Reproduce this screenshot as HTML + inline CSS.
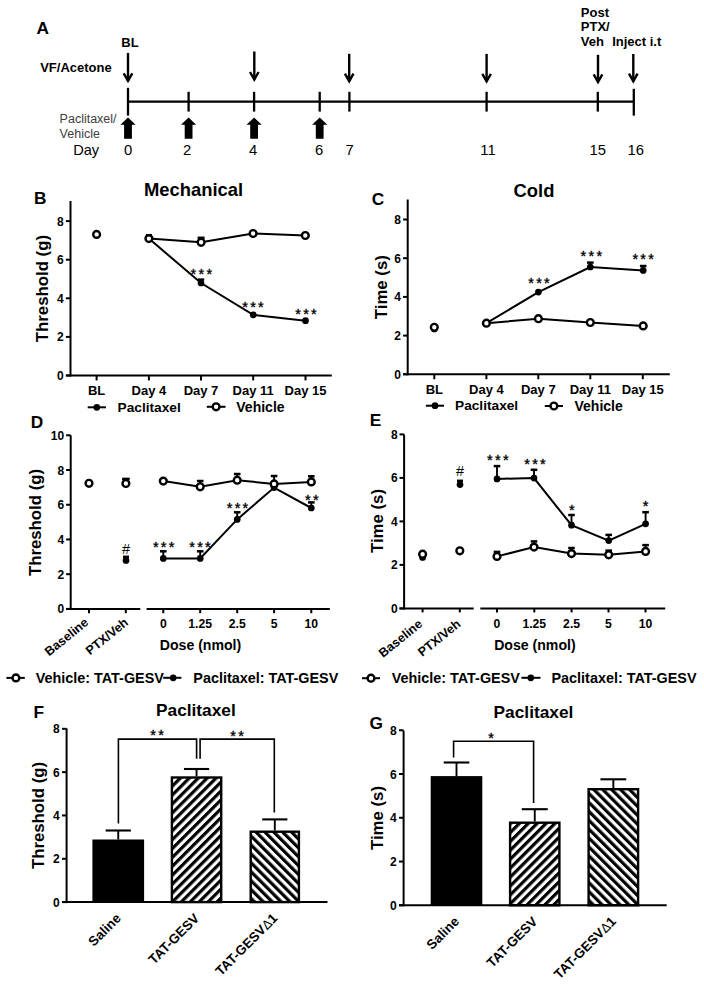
<!DOCTYPE html><html><head><meta charset="utf-8"><style>html,body{margin:0;padding:0;background:#fff;}svg{display:block;font-family:"Liberation Sans",sans-serif;}</style></head><body>
<svg width="704" height="984" viewBox="0 0 704 984">
<rect x="0" y="0" width="704" height="984" fill="#fff"/>
<g stroke="#000" stroke-linecap="butt">
<text x="36.6" y="34.3" font-size="17.3" font-weight="bold" text-anchor="start" fill="#000" stroke="none" >A</text>
<text x="121.3" y="46.8" font-size="13" font-weight="bold" text-anchor="start" fill="#000" stroke="none" >BL</text>
<text x="40.2" y="72" font-size="13" font-weight="bold" text-anchor="start" fill="#000" stroke="none" >VF/Acetone</text>
<text x="580.8" y="17" font-size="13" font-weight="bold" text-anchor="start" fill="#000" stroke="none" >Post</text>
<text x="580.8" y="31.4" font-size="13" font-weight="bold" text-anchor="start" fill="#000" stroke="none" >PTX/</text>
<text x="580.8" y="45.7" font-size="13" font-weight="bold" text-anchor="start" fill="#000" stroke="none" >Veh</text>
<text x="612.2" y="45.8" font-size="13" font-weight="bold" text-anchor="start" fill="#000" stroke="none" >Inject i.t</text>
<line x1="128" y1="52.9" x2="128" y2="80.9" stroke-width="2.4"/>
<polyline points="123.7,73.3 128,80.9 132.3,73.3" fill="none" stroke-width="2.4" stroke-linejoin="miter" stroke-miterlimit="10"/>
<line x1="254.3" y1="51.5" x2="254.3" y2="79.6" stroke-width="2.4"/>
<polyline points="250,72 254.3,79.6 258.6,72" fill="none" stroke-width="2.4" stroke-linejoin="miter" stroke-miterlimit="10"/>
<line x1="349.2" y1="53.8" x2="349.2" y2="81.2" stroke-width="2.4"/>
<polyline points="344.9,73.6 349.2,81.2 353.5,73.6" fill="none" stroke-width="2.4" stroke-linejoin="miter" stroke-miterlimit="10"/>
<line x1="486.6" y1="53.9" x2="486.6" y2="81.4" stroke-width="2.4"/>
<polyline points="482.3,73.8 486.6,81.4 490.9,73.8" fill="none" stroke-width="2.4" stroke-linejoin="miter" stroke-miterlimit="10"/>
<line x1="598" y1="54.8" x2="598" y2="82" stroke-width="2.4"/>
<polyline points="593.7,74.4 598,82 602.3,74.4" fill="none" stroke-width="2.4" stroke-linejoin="miter" stroke-miterlimit="10"/>
<line x1="633.3" y1="54" x2="633.3" y2="81.2" stroke-width="2.4"/>
<polyline points="629,73.6 633.3,81.2 637.6,73.6" fill="none" stroke-width="2.4" stroke-linejoin="miter" stroke-miterlimit="10"/>
<line x1="128" y1="101.6" x2="634" y2="101.6" stroke-width="2.2"/>
<line x1="188.6" y1="91.8" x2="188.6" y2="111.6" stroke-width="2.3"/>
<line x1="254.1" y1="91.8" x2="254.1" y2="111.6" stroke-width="2.3"/>
<line x1="319.7" y1="91.8" x2="319.7" y2="111.6" stroke-width="2.3"/>
<line x1="349.4" y1="91.8" x2="349.4" y2="111.6" stroke-width="2.3"/>
<line x1="486.6" y1="91.8" x2="486.6" y2="111.6" stroke-width="2.3"/>
<line x1="597.8" y1="91.8" x2="597.8" y2="111.6" stroke-width="2.3"/>
<line x1="128" y1="87.8" x2="128" y2="115.6" stroke-width="2.3"/>
<line x1="633.8" y1="88.8" x2="633.8" y2="115.6" stroke-width="2.3"/>
<polygon points="128,117.4 135.6,124.8 131.9,124.8 131.9,138.8 124.1,138.8 124.1,124.8 120.4,124.8" fill="#000" stroke="none"/>
<polygon points="188.6,117.4 196.2,124.8 192.5,124.8 192.5,138.8 184.7,138.8 184.7,124.8 181,124.8" fill="#000" stroke="none"/>
<polygon points="254.1,117.4 261.7,124.8 258,124.8 258,138.8 250.2,138.8 250.2,124.8 246.5,124.8" fill="#000" stroke="none"/>
<polygon points="319.7,117.4 327.3,124.8 323.6,124.8 323.6,138.8 315.8,138.8 315.8,124.8 312.1,124.8" fill="#000" stroke="none"/>
<text x="59.6" y="123.3" font-size="12.5" font-weight="normal" text-anchor="start" fill="#404040" stroke="none" >Paclitaxel/</text>
<text x="59.6" y="137.5" font-size="12.5" font-weight="normal" text-anchor="start" fill="#404040" stroke="none" >Vehicle</text>
<text x="73.2" y="155.2" font-size="14.6" font-weight="normal" text-anchor="start" fill="#000" stroke="none" >Day</text>
<text x="128.2" y="155.2" font-size="14.8" font-weight="normal" text-anchor="middle" fill="#000" stroke="none" >0</text>
<text x="187" y="155.2" font-size="14.8" font-weight="normal" text-anchor="middle" fill="#000" stroke="none" >2</text>
<text x="253" y="155.2" font-size="14.8" font-weight="normal" text-anchor="middle" fill="#000" stroke="none" >4</text>
<text x="319" y="155.2" font-size="14.8" font-weight="normal" text-anchor="middle" fill="#000" stroke="none" >6</text>
<text x="349.6" y="155.2" font-size="14.8" font-weight="normal" text-anchor="middle" fill="#000" stroke="none" >7</text>
<text x="488" y="155.2" font-size="14.8" font-weight="normal" text-anchor="middle" fill="#000" stroke="none" >11</text>
<text x="597.8" y="155.2" font-size="14.8" font-weight="normal" text-anchor="middle" fill="#000" stroke="none" >15</text>
<text x="635.8" y="155.2" font-size="14.8" font-weight="normal" text-anchor="middle" fill="#000" stroke="none" >16</text>
<text x="34" y="203.5" font-size="17.3" font-weight="bold" text-anchor="start" fill="#000" stroke="none" >B</text>
<text x="144" y="196.4" font-size="18.4" font-weight="bold" text-anchor="start" fill="#000" stroke="none" >Mechanical</text>
<line x1="70.5" y1="201" x2="70.5" y2="376.5" stroke-width="2"/>
<line x1="65.9" y1="375.5" x2="70.5" y2="375.5" stroke-width="2"/>
<text x="63.6" y="380" font-size="12" font-weight="bold" text-anchor="end" fill="#000" stroke="none" >0</text>
<line x1="65.9" y1="336.9" x2="70.5" y2="336.9" stroke-width="2"/>
<text x="63.6" y="341.4" font-size="12" font-weight="bold" text-anchor="end" fill="#000" stroke="none" >2</text>
<line x1="65.9" y1="298.3" x2="70.5" y2="298.3" stroke-width="2"/>
<text x="63.6" y="302.8" font-size="12" font-weight="bold" text-anchor="end" fill="#000" stroke="none" >4</text>
<line x1="65.9" y1="259.7" x2="70.5" y2="259.7" stroke-width="2"/>
<text x="63.6" y="264.2" font-size="12" font-weight="bold" text-anchor="end" fill="#000" stroke="none" >6</text>
<line x1="65.9" y1="221.1" x2="70.5" y2="221.1" stroke-width="2"/>
<text x="63.6" y="225.6" font-size="12" font-weight="bold" text-anchor="end" fill="#000" stroke="none" >8</text>
<line x1="65.9" y1="375.5" x2="331.8" y2="375.5" stroke-width="2"/>
<line x1="96.6" y1="375.5" x2="96.6" y2="380.4" stroke-width="2"/>
<text x="96.6" y="395" font-size="13" font-weight="bold" text-anchor="middle" fill="#000" stroke="none" >BL</text>
<line x1="148.9" y1="375.5" x2="148.9" y2="380.4" stroke-width="2"/>
<text x="148.9" y="395" font-size="13" font-weight="bold" text-anchor="middle" fill="#000" stroke="none" >Day 4</text>
<line x1="201" y1="375.5" x2="201" y2="380.4" stroke-width="2"/>
<text x="201" y="395" font-size="13" font-weight="bold" text-anchor="middle" fill="#000" stroke="none" >Day 7</text>
<line x1="253.2" y1="375.5" x2="253.2" y2="380.4" stroke-width="2"/>
<text x="253.2" y="395" font-size="13" font-weight="bold" text-anchor="middle" fill="#000" stroke="none" >Day 11</text>
<line x1="305.5" y1="375.5" x2="305.5" y2="380.4" stroke-width="2"/>
<text x="305.5" y="395" font-size="13" font-weight="bold" text-anchor="middle" fill="#000" stroke="none" >Day 15</text>
<text transform="translate(48.4,288.6) rotate(-90)" font-size="16.8" font-weight="bold" text-anchor="middle" stroke="none" fill="#000">Threshold (g)</text>
<polyline points="148.9,238.6 201.1,242.3 253.1,233.5 305.3,235.5" fill="none" stroke-width="2"/>
<polyline points="148.9,238.6 201,283 253.2,314.8 305.5,320.7" fill="none" stroke-width="2"/>
<line x1="201" y1="283" x2="201" y2="279.6" stroke-width="1.9"/>
<line x1="197.8" y1="279.6" x2="204.2" y2="279.6" stroke-width="2.5"/>
<line x1="148.9" y1="238.6" x2="148.9" y2="235.2" stroke-width="1.9"/>
<line x1="145.9" y1="235.2" x2="151.9" y2="235.2" stroke-width="2.5"/>
<line x1="201.1" y1="242.3" x2="201.1" y2="237.8" stroke-width="1.9"/>
<line x1="197.6" y1="237.8" x2="204.6" y2="237.8" stroke-width="2.5"/>
<circle cx="201" cy="283" r="3.35" fill="#000" stroke="none"/>
<circle cx="253.2" cy="314.8" r="3.35" fill="#000" stroke="none"/>
<circle cx="305.5" cy="320.7" r="3.35" fill="#000" stroke="none"/>
<circle cx="96.6" cy="234.4" r="3.4" fill="#fff" stroke-width="2.4"/>
<circle cx="148.9" cy="238.6" r="3.4" fill="#fff" stroke-width="2.4"/>
<circle cx="201.1" cy="242.3" r="3.4" fill="#fff" stroke-width="2.4"/>
<circle cx="253.1" cy="233.5" r="3.4" fill="#fff" stroke-width="2.4"/>
<circle cx="305.3" cy="235.5" r="3.4" fill="#fff" stroke-width="2.4"/>
<text x="193.45" y="279.07" font-size="14.5" font-weight="normal" text-anchor="middle" stroke="#000" stroke-width="0.35" fill="#000">*</text>
<text x="201.4" y="279.07" font-size="14.5" font-weight="normal" text-anchor="middle" stroke="#000" stroke-width="0.35" fill="#000">*</text>
<text x="209.35" y="279.07" font-size="14.5" font-weight="normal" text-anchor="middle" stroke="#000" stroke-width="0.35" fill="#000">*</text>
<text x="245.05" y="311.67" font-size="14.5" font-weight="normal" text-anchor="middle" stroke="#000" stroke-width="0.35" fill="#000">*</text>
<text x="253" y="311.67" font-size="14.5" font-weight="normal" text-anchor="middle" stroke="#000" stroke-width="0.35" fill="#000">*</text>
<text x="260.95" y="311.67" font-size="14.5" font-weight="normal" text-anchor="middle" stroke="#000" stroke-width="0.35" fill="#000">*</text>
<text x="298.05" y="318.67" font-size="14.5" font-weight="normal" text-anchor="middle" stroke="#000" stroke-width="0.35" fill="#000">*</text>
<text x="306" y="318.67" font-size="14.5" font-weight="normal" text-anchor="middle" stroke="#000" stroke-width="0.35" fill="#000">*</text>
<text x="313.95" y="318.67" font-size="14.5" font-weight="normal" text-anchor="middle" stroke="#000" stroke-width="0.35" fill="#000">*</text>
<line x1="87.7" y1="407.3" x2="105.9" y2="407.3" stroke-width="2"/>
<circle cx="96.8" cy="407.3" r="3.35" fill="#000" stroke="none"/>
<text x="117.6" y="412" font-size="13.7" font-weight="bold" text-anchor="start" fill="#000" stroke="none" >Paclitaxel</text>
<line x1="206.8" y1="406.8" x2="225.5" y2="406.8" stroke-width="2"/>
<circle cx="216.1" cy="406.8" r="3.4" fill="#fff" stroke-width="2.4"/>
<text x="236.3" y="412" font-size="14" font-weight="bold" text-anchor="start" fill="#000" stroke="none" >Vehicle</text>
<text x="371.8" y="205.2" font-size="17.3" font-weight="bold" text-anchor="start" fill="#000" stroke="none" >C</text>
<text x="513.6" y="197.2" font-size="18.4" font-weight="bold" text-anchor="start" fill="#000" stroke="none" >Cold</text>
<line x1="407.7" y1="199.5" x2="407.7" y2="375.3" stroke-width="2"/>
<line x1="403.1" y1="374.3" x2="407.7" y2="374.3" stroke-width="2"/>
<text x="401" y="378.8" font-size="12" font-weight="bold" text-anchor="end" fill="#000" stroke="none" >0</text>
<line x1="403.1" y1="335.6" x2="407.7" y2="335.6" stroke-width="2"/>
<text x="401" y="340.1" font-size="12" font-weight="bold" text-anchor="end" fill="#000" stroke="none" >2</text>
<line x1="403.1" y1="296.9" x2="407.7" y2="296.9" stroke-width="2"/>
<text x="401" y="301.4" font-size="12" font-weight="bold" text-anchor="end" fill="#000" stroke="none" >4</text>
<line x1="403.1" y1="258.2" x2="407.7" y2="258.2" stroke-width="2"/>
<text x="401" y="262.7" font-size="12" font-weight="bold" text-anchor="end" fill="#000" stroke="none" >6</text>
<line x1="403.1" y1="219.5" x2="407.7" y2="219.5" stroke-width="2"/>
<text x="401" y="224" font-size="12" font-weight="bold" text-anchor="end" fill="#000" stroke="none" >8</text>
<line x1="403.1" y1="374.3" x2="669.8" y2="374.3" stroke-width="2"/>
<line x1="434.3" y1="374.3" x2="434.3" y2="379.2" stroke-width="2"/>
<text x="434.3" y="394" font-size="13" font-weight="bold" text-anchor="middle" fill="#000" stroke="none" >BL</text>
<line x1="486.4" y1="374.3" x2="486.4" y2="379.2" stroke-width="2"/>
<text x="486.4" y="394" font-size="13" font-weight="bold" text-anchor="middle" fill="#000" stroke="none" >Day 4</text>
<line x1="538.3" y1="374.3" x2="538.3" y2="379.2" stroke-width="2"/>
<text x="538.3" y="394" font-size="13" font-weight="bold" text-anchor="middle" fill="#000" stroke="none" >Day 7</text>
<line x1="590.3" y1="374.3" x2="590.3" y2="379.2" stroke-width="2"/>
<text x="590.3" y="394" font-size="13" font-weight="bold" text-anchor="middle" fill="#000" stroke="none" >Day 11</text>
<line x1="642.8" y1="374.3" x2="642.8" y2="379.2" stroke-width="2"/>
<text x="642.8" y="394" font-size="13" font-weight="bold" text-anchor="middle" fill="#000" stroke="none" >Day 15</text>
<text transform="translate(386.6,287.2) rotate(-90)" font-size="16.8" font-weight="bold" text-anchor="middle" stroke="none" fill="#000">Time (s)</text>
<polyline points="486.4,323.2 538.4,318.7 590.3,322.5 643.2,325.9" fill="none" stroke-width="2"/>
<polyline points="486.4,323.2 538.4,292.1 590.3,267 643.2,270.4" fill="none" stroke-width="2"/>
<line x1="590.3" y1="267" x2="590.3" y2="262.6" stroke-width="1.9"/>
<line x1="587" y1="262.6" x2="593.6" y2="262.6" stroke-width="2.5"/>
<line x1="643.2" y1="270.4" x2="643.2" y2="266" stroke-width="1.9"/>
<line x1="639.9" y1="266" x2="646.5" y2="266" stroke-width="2.5"/>
<circle cx="538.4" cy="292.1" r="3.35" fill="#000" stroke="none"/>
<circle cx="590.3" cy="267" r="3.35" fill="#000" stroke="none"/>
<circle cx="643.2" cy="270.4" r="3.35" fill="#000" stroke="none"/>
<circle cx="434.3" cy="328.9" r="3.35" fill="#000" stroke="none"/>
<circle cx="434.3" cy="327.3" r="3.4" fill="#fff" stroke-width="2.4"/>
<circle cx="486.4" cy="323.2" r="3.4" fill="#fff" stroke-width="2.4"/>
<circle cx="538.4" cy="318.7" r="3.4" fill="#fff" stroke-width="2.4"/>
<circle cx="590.3" cy="322.5" r="3.4" fill="#fff" stroke-width="2.4"/>
<circle cx="643.2" cy="325.9" r="3.4" fill="#fff" stroke-width="2.4"/>
<text x="531.05" y="288.47" font-size="14.5" font-weight="normal" text-anchor="middle" stroke="#000" stroke-width="0.35" fill="#000">*</text>
<text x="539" y="288.47" font-size="14.5" font-weight="normal" text-anchor="middle" stroke="#000" stroke-width="0.35" fill="#000">*</text>
<text x="546.95" y="288.47" font-size="14.5" font-weight="normal" text-anchor="middle" stroke="#000" stroke-width="0.35" fill="#000">*</text>
<text x="583.45" y="261.47" font-size="14.5" font-weight="normal" text-anchor="middle" stroke="#000" stroke-width="0.35" fill="#000">*</text>
<text x="591.4" y="261.47" font-size="14.5" font-weight="normal" text-anchor="middle" stroke="#000" stroke-width="0.35" fill="#000">*</text>
<text x="599.35" y="261.47" font-size="14.5" font-weight="normal" text-anchor="middle" stroke="#000" stroke-width="0.35" fill="#000">*</text>
<text x="635.25" y="264.17" font-size="14.5" font-weight="normal" text-anchor="middle" stroke="#000" stroke-width="0.35" fill="#000">*</text>
<text x="643.2" y="264.17" font-size="14.5" font-weight="normal" text-anchor="middle" stroke="#000" stroke-width="0.35" fill="#000">*</text>
<text x="651.15" y="264.17" font-size="14.5" font-weight="normal" text-anchor="middle" stroke="#000" stroke-width="0.35" fill="#000">*</text>
<line x1="425.9" y1="405.7" x2="444" y2="405.7" stroke-width="2"/>
<circle cx="435" cy="405.7" r="3.35" fill="#000" stroke="none"/>
<text x="455" y="410.4" font-size="13.7" font-weight="bold" text-anchor="start" fill="#000" stroke="none" >Paclitaxel</text>
<line x1="544.8" y1="406" x2="563" y2="406" stroke-width="2"/>
<circle cx="553.9" cy="406" r="3.4" fill="#fff" stroke-width="2.4"/>
<text x="574.5" y="411.3" font-size="14" font-weight="bold" text-anchor="start" fill="#000" stroke="none" >Vehicle</text>
<text x="30.8" y="427.9" font-size="17.3" font-weight="bold" text-anchor="start" fill="#000" stroke="none" >D</text>
<line x1="70.7" y1="435.3" x2="70.7" y2="609.9" stroke-width="2"/>
<line x1="66.1" y1="608.9" x2="70.7" y2="608.9" stroke-width="2"/>
<text x="64.2" y="613.4" font-size="12" font-weight="bold" text-anchor="end" fill="#000" stroke="none" >0</text>
<line x1="66.1" y1="574.18" x2="70.7" y2="574.18" stroke-width="2"/>
<text x="64.2" y="578.68" font-size="12" font-weight="bold" text-anchor="end" fill="#000" stroke="none" >2</text>
<line x1="66.1" y1="539.46" x2="70.7" y2="539.46" stroke-width="2"/>
<text x="64.2" y="543.96" font-size="12" font-weight="bold" text-anchor="end" fill="#000" stroke="none" >4</text>
<line x1="66.1" y1="504.74" x2="70.7" y2="504.74" stroke-width="2"/>
<text x="64.2" y="509.24" font-size="12" font-weight="bold" text-anchor="end" fill="#000" stroke="none" >6</text>
<line x1="66.1" y1="470.02" x2="70.7" y2="470.02" stroke-width="2"/>
<text x="64.2" y="474.52" font-size="12" font-weight="bold" text-anchor="end" fill="#000" stroke="none" >8</text>
<line x1="66.1" y1="435.3" x2="70.7" y2="435.3" stroke-width="2"/>
<text x="64.2" y="439.8" font-size="12" font-weight="bold" text-anchor="end" fill="#000" stroke="none" >10</text>
<line x1="66.1" y1="608.9" x2="140.3" y2="608.9" stroke-width="2"/>
<line x1="146.6" y1="608.9" x2="329.8" y2="608.9" stroke-width="2"/>
<line x1="89" y1="608.9" x2="89" y2="613.2" stroke-width="2"/>
<line x1="125.8" y1="608.9" x2="125.8" y2="613.2" stroke-width="2"/>
<line x1="163.3" y1="608.9" x2="163.3" y2="613.2" stroke-width="2"/>
<line x1="200.2" y1="608.9" x2="200.2" y2="613.2" stroke-width="2"/>
<line x1="237.2" y1="608.9" x2="237.2" y2="613.2" stroke-width="2"/>
<line x1="274.1" y1="608.9" x2="274.1" y2="613.2" stroke-width="2"/>
<line x1="311.3" y1="608.9" x2="311.3" y2="613.2" stroke-width="2"/>
<text x="163.3" y="628" font-size="12.2" font-weight="bold" text-anchor="middle" fill="#000" stroke="none" >0</text>
<text x="200.2" y="628" font-size="12.2" font-weight="bold" text-anchor="middle" fill="#000" stroke="none" >1.25</text>
<text x="237.2" y="628" font-size="12.2" font-weight="bold" text-anchor="middle" fill="#000" stroke="none" >2.5</text>
<text x="274.1" y="628" font-size="12.2" font-weight="bold" text-anchor="middle" fill="#000" stroke="none" >5</text>
<text x="311.3" y="628" font-size="12.2" font-weight="bold" text-anchor="middle" fill="#000" stroke="none" >10</text>
<text x="159.8" y="650.4" font-size="14.1" font-weight="bold" text-anchor="start" fill="#000" stroke="none" >Dose (nmol)</text>
<text transform="translate(89.3,623.9) rotate(-39)" font-size="12.6" font-weight="bold" text-anchor="end" stroke="none" fill="#000">Baseline</text>
<text transform="translate(129.1,623.9) rotate(-39)" font-size="12.6" font-weight="bold" text-anchor="end" stroke="none" fill="#000">PTX/Veh</text>
<text transform="translate(41.2,522.5) rotate(-90)" font-size="16.8" font-weight="bold" text-anchor="middle" stroke="none" fill="#000">Threshold (g)</text>
<polyline points="163.3,481.1 200.2,486.8 237.2,480.2 274.1,483.9 311.3,481.9" fill="none" stroke-width="2"/>
<polyline points="163.3,558.4 200.2,558.4 237.2,519.4 274.1,487.6 311.3,508" fill="none" stroke-width="2"/>
<line x1="163.3" y1="558.4" x2="163.3" y2="551.3" stroke-width="1.9"/>
<line x1="160" y1="551.3" x2="166.6" y2="551.3" stroke-width="2.5"/>
<line x1="200.2" y1="558.4" x2="200.2" y2="551.3" stroke-width="1.9"/>
<line x1="196.9" y1="551.3" x2="203.5" y2="551.3" stroke-width="2.5"/>
<line x1="237.2" y1="519.4" x2="237.2" y2="512.3" stroke-width="1.9"/>
<line x1="233.9" y1="512.3" x2="240.5" y2="512.3" stroke-width="2.5"/>
<line x1="311.3" y1="508" x2="311.3" y2="502.4" stroke-width="1.9"/>
<line x1="308" y1="502.4" x2="314.6" y2="502.4" stroke-width="2.5"/>
<line x1="200.2" y1="486.8" x2="200.2" y2="481" stroke-width="1.9"/>
<line x1="196.9" y1="481" x2="203.5" y2="481" stroke-width="2.5"/>
<line x1="237.2" y1="480.2" x2="237.2" y2="474" stroke-width="1.9"/>
<line x1="233.9" y1="474" x2="240.5" y2="474" stroke-width="2.5"/>
<line x1="274.1" y1="483.9" x2="274.1" y2="476" stroke-width="1.9"/>
<line x1="270.8" y1="476" x2="277.4" y2="476" stroke-width="2.5"/>
<line x1="311.3" y1="481.9" x2="311.3" y2="476.3" stroke-width="1.9"/>
<line x1="308" y1="476.3" x2="314.6" y2="476.3" stroke-width="2.5"/>
<line x1="125.9" y1="483.5" x2="125.9" y2="478.9" stroke-width="1.9"/>
<line x1="122.1" y1="478.9" x2="129.7" y2="478.9" stroke-width="2.5"/>
<line x1="126" y1="560.4" x2="126" y2="556.8" stroke-width="1.9"/>
<line x1="123" y1="556.8" x2="129" y2="556.8" stroke-width="2.5"/>
<circle cx="89" cy="483.4" r="3.35" fill="#000" stroke="none"/>
<circle cx="126" cy="560.4" r="3.35" fill="#000" stroke="none"/>
<circle cx="163.3" cy="558.4" r="3.35" fill="#000" stroke="none"/>
<circle cx="200.2" cy="558.4" r="3.35" fill="#000" stroke="none"/>
<circle cx="237.2" cy="519.4" r="3.35" fill="#000" stroke="none"/>
<circle cx="274.1" cy="487.6" r="3.35" fill="#000" stroke="none"/>
<circle cx="311.3" cy="508" r="3.35" fill="#000" stroke="none"/>
<circle cx="89" cy="483.3" r="3.4" fill="#fff" stroke-width="2.4"/>
<circle cx="125.9" cy="483.5" r="3.4" fill="#fff" stroke-width="2.4"/>
<circle cx="163.3" cy="481.1" r="3.4" fill="#fff" stroke-width="2.4"/>
<circle cx="200.2" cy="486.8" r="3.4" fill="#fff" stroke-width="2.4"/>
<circle cx="237.2" cy="480.2" r="3.4" fill="#fff" stroke-width="2.4"/>
<circle cx="274.1" cy="483.9" r="3.4" fill="#fff" stroke-width="2.4"/>
<circle cx="311.3" cy="481.9" r="3.4" fill="#fff" stroke-width="2.4"/>
<text x="155.75" y="552.07" font-size="14.5" font-weight="normal" text-anchor="middle" stroke="#000" stroke-width="0.35" fill="#000">*</text>
<text x="163.7" y="552.07" font-size="14.5" font-weight="normal" text-anchor="middle" stroke="#000" stroke-width="0.35" fill="#000">*</text>
<text x="171.65" y="552.07" font-size="14.5" font-weight="normal" text-anchor="middle" stroke="#000" stroke-width="0.35" fill="#000">*</text>
<text x="192.05" y="552.07" font-size="14.5" font-weight="normal" text-anchor="middle" stroke="#000" stroke-width="0.35" fill="#000">*</text>
<text x="200" y="552.07" font-size="14.5" font-weight="normal" text-anchor="middle" stroke="#000" stroke-width="0.35" fill="#000">*</text>
<text x="207.95" y="552.07" font-size="14.5" font-weight="normal" text-anchor="middle" stroke="#000" stroke-width="0.35" fill="#000">*</text>
<text x="229.55" y="512.87" font-size="14.5" font-weight="normal" text-anchor="middle" stroke="#000" stroke-width="0.35" fill="#000">*</text>
<text x="237.5" y="512.87" font-size="14.5" font-weight="normal" text-anchor="middle" stroke="#000" stroke-width="0.35" fill="#000">*</text>
<text x="245.45" y="512.87" font-size="14.5" font-weight="normal" text-anchor="middle" stroke="#000" stroke-width="0.35" fill="#000">*</text>
<text x="307.92" y="504.87" font-size="14.5" font-weight="normal" text-anchor="middle" stroke="#000" stroke-width="0.35" fill="#000">*</text>
<text x="315.88" y="504.87" font-size="14.5" font-weight="normal" text-anchor="middle" stroke="#000" stroke-width="0.35" fill="#000">*</text>
<text x="126.1" y="553.9" font-size="14.5" font-weight="normal" text-anchor="middle" fill="#000" stroke="none" >#</text>
<text x="369.8" y="426.1" font-size="17.3" font-weight="bold" text-anchor="start" fill="#000" stroke="none" >E</text>
<line x1="404.1" y1="434.5" x2="404.1" y2="609.4" stroke-width="2"/>
<line x1="399.5" y1="608.4" x2="404.1" y2="608.4" stroke-width="2"/>
<text x="397.6" y="612.9" font-size="12" font-weight="bold" text-anchor="end" fill="#000" stroke="none" >0</text>
<line x1="399.5" y1="564.9" x2="404.1" y2="564.9" stroke-width="2"/>
<text x="397.6" y="569.4" font-size="12" font-weight="bold" text-anchor="end" fill="#000" stroke="none" >2</text>
<line x1="399.5" y1="521.4" x2="404.1" y2="521.4" stroke-width="2"/>
<text x="397.6" y="525.9" font-size="12" font-weight="bold" text-anchor="end" fill="#000" stroke="none" >4</text>
<line x1="399.5" y1="477.9" x2="404.1" y2="477.9" stroke-width="2"/>
<text x="397.6" y="482.4" font-size="12" font-weight="bold" text-anchor="end" fill="#000" stroke="none" >6</text>
<line x1="399.5" y1="434.4" x2="404.1" y2="434.4" stroke-width="2"/>
<text x="397.6" y="438.9" font-size="12" font-weight="bold" text-anchor="end" fill="#000" stroke="none" >8</text>
<line x1="399.5" y1="608.4" x2="473.7" y2="608.4" stroke-width="2"/>
<line x1="480.3" y1="608.4" x2="665.2" y2="608.4" stroke-width="2"/>
<line x1="422.6" y1="608.4" x2="422.6" y2="612.4" stroke-width="2"/>
<line x1="459.8" y1="608.4" x2="459.8" y2="612.4" stroke-width="2"/>
<line x1="497" y1="608.4" x2="497" y2="612.4" stroke-width="2"/>
<line x1="534.3" y1="608.4" x2="534.3" y2="612.4" stroke-width="2"/>
<line x1="571.6" y1="608.4" x2="571.6" y2="612.4" stroke-width="2"/>
<line x1="608.5" y1="608.4" x2="608.5" y2="612.4" stroke-width="2"/>
<line x1="645.5" y1="608.4" x2="645.5" y2="612.4" stroke-width="2"/>
<text x="497" y="628.3" font-size="12.2" font-weight="bold" text-anchor="middle" fill="#000" stroke="none" >0</text>
<text x="534.3" y="628.3" font-size="12.2" font-weight="bold" text-anchor="middle" fill="#000" stroke="none" >1.25</text>
<text x="571.6" y="628.3" font-size="12.2" font-weight="bold" text-anchor="middle" fill="#000" stroke="none" >2.5</text>
<text x="608.5" y="628.3" font-size="12.2" font-weight="bold" text-anchor="middle" fill="#000" stroke="none" >5</text>
<text x="645.5" y="628.3" font-size="12.2" font-weight="bold" text-anchor="middle" fill="#000" stroke="none" >10</text>
<text x="494.2" y="649.6" font-size="14.1" font-weight="bold" text-anchor="start" fill="#000" stroke="none" >Dose (nmol)</text>
<text transform="translate(423.3,625.4) rotate(-39)" font-size="12.6" font-weight="bold" text-anchor="end" stroke="none" fill="#000">Baseline</text>
<text transform="translate(461.5,625.4) rotate(-39)" font-size="12.6" font-weight="bold" text-anchor="end" stroke="none" fill="#000">PTX/Veh</text>
<text transform="translate(382.8,521.0) rotate(-90)" font-size="16.8" font-weight="bold" text-anchor="middle" stroke="none" fill="#000">Time (s)</text>
<polyline points="497,556.4 534,547.1 571.5,553.6 608.7,554.8 645.6,551.4" fill="none" stroke-width="2"/>
<polyline points="497,478.9 534,478.1 571.5,525.2 608.7,540.6 645.6,523.8" fill="none" stroke-width="2"/>
<line x1="497" y1="478.9" x2="497" y2="466.1" stroke-width="1.9"/>
<line x1="493.7" y1="466.1" x2="500.3" y2="466.1" stroke-width="2.5"/>
<line x1="534" y1="478.1" x2="534" y2="469.8" stroke-width="1.9"/>
<line x1="530.7" y1="469.8" x2="537.3" y2="469.8" stroke-width="2.5"/>
<line x1="571.5" y1="525.2" x2="571.5" y2="515" stroke-width="1.9"/>
<line x1="568.2" y1="515" x2="574.8" y2="515" stroke-width="2.5"/>
<line x1="608.7" y1="540.6" x2="608.7" y2="534.9" stroke-width="1.9"/>
<line x1="605.4" y1="534.9" x2="612" y2="534.9" stroke-width="2.5"/>
<line x1="645.6" y1="523.8" x2="645.6" y2="512.2" stroke-width="1.9"/>
<line x1="642.3" y1="512.2" x2="648.9" y2="512.2" stroke-width="2.5"/>
<line x1="497" y1="556.4" x2="497" y2="551.9" stroke-width="1.9"/>
<line x1="493.7" y1="551.9" x2="500.3" y2="551.9" stroke-width="2.5"/>
<line x1="534" y1="547.1" x2="534" y2="541.4" stroke-width="1.9"/>
<line x1="530.7" y1="541.4" x2="537.3" y2="541.4" stroke-width="2.5"/>
<line x1="571.5" y1="553.6" x2="571.5" y2="548" stroke-width="1.9"/>
<line x1="568.2" y1="548" x2="574.8" y2="548" stroke-width="2.5"/>
<line x1="608.7" y1="554.8" x2="608.7" y2="550.6" stroke-width="1.9"/>
<line x1="605.4" y1="550.6" x2="612" y2="550.6" stroke-width="2.5"/>
<line x1="645.6" y1="551.4" x2="645.6" y2="545.1" stroke-width="1.9"/>
<line x1="642.3" y1="545.1" x2="648.9" y2="545.1" stroke-width="2.5"/>
<line x1="460" y1="484.6" x2="460" y2="480.8" stroke-width="1.9"/>
<line x1="457" y1="480.8" x2="463" y2="480.8" stroke-width="2.5"/>
<circle cx="422.6" cy="557.4" r="3.35" fill="#000" stroke="none"/>
<circle cx="460" cy="484.6" r="3.35" fill="#000" stroke="none"/>
<circle cx="497" cy="478.9" r="3.35" fill="#000" stroke="none"/>
<circle cx="534" cy="478.1" r="3.35" fill="#000" stroke="none"/>
<circle cx="571.5" cy="525.2" r="3.35" fill="#000" stroke="none"/>
<circle cx="608.7" cy="540.6" r="3.35" fill="#000" stroke="none"/>
<circle cx="645.6" cy="523.8" r="3.35" fill="#000" stroke="none"/>
<circle cx="422.6" cy="554.2" r="3.4" fill="#fff" stroke-width="2.4"/>
<circle cx="459.8" cy="550.8" r="3.4" fill="#fff" stroke-width="2.4"/>
<circle cx="497" cy="556.4" r="3.4" fill="#fff" stroke-width="2.4"/>
<circle cx="534" cy="547.1" r="3.4" fill="#fff" stroke-width="2.4"/>
<circle cx="571.5" cy="553.6" r="3.4" fill="#fff" stroke-width="2.4"/>
<circle cx="608.7" cy="554.8" r="3.4" fill="#fff" stroke-width="2.4"/>
<circle cx="645.6" cy="551.4" r="3.4" fill="#fff" stroke-width="2.4"/>
<text x="489.85" y="465.27" font-size="14.5" font-weight="normal" text-anchor="middle" stroke="#000" stroke-width="0.35" fill="#000">*</text>
<text x="497.8" y="465.27" font-size="14.5" font-weight="normal" text-anchor="middle" stroke="#000" stroke-width="0.35" fill="#000">*</text>
<text x="505.75" y="465.27" font-size="14.5" font-weight="normal" text-anchor="middle" stroke="#000" stroke-width="0.35" fill="#000">*</text>
<text x="527.05" y="469.47" font-size="14.5" font-weight="normal" text-anchor="middle" stroke="#000" stroke-width="0.35" fill="#000">*</text>
<text x="535" y="469.47" font-size="14.5" font-weight="normal" text-anchor="middle" stroke="#000" stroke-width="0.35" fill="#000">*</text>
<text x="542.95" y="469.47" font-size="14.5" font-weight="normal" text-anchor="middle" stroke="#000" stroke-width="0.35" fill="#000">*</text>
<text x="571.8" y="514.97" font-size="14.5" font-weight="normal" text-anchor="middle" stroke="#000" stroke-width="0.35" fill="#000">*</text>
<text x="645.7" y="511.47" font-size="14.5" font-weight="normal" text-anchor="middle" stroke="#000" stroke-width="0.35" fill="#000">*</text>
<text x="460.1" y="476.2" font-size="14.5" font-weight="normal" text-anchor="middle" fill="#000" stroke="none" >#</text>
<line x1="6.4" y1="677.9" x2="24.8" y2="677.9" stroke-width="2"/>
<circle cx="15.9" cy="677.9" r="3.4" fill="#fff" stroke-width="2.4"/>
<text x="35.7" y="683.2" font-size="14.4" font-weight="bold" text-anchor="start" fill="#000" stroke="none" >Vehicle: TAT-GESV</text>
<line x1="163.2" y1="677.8" x2="181.4" y2="677.8" stroke-width="2"/>
<circle cx="173.2" cy="677.8" r="3.35" fill="#000" stroke="none"/>
<text x="193.3" y="683.4" font-size="14.4" font-weight="bold" text-anchor="start" fill="#000" stroke="none" >Paclitaxel: TAT-GESV</text>
<line x1="362" y1="678.2" x2="380" y2="678.2" stroke-width="2"/>
<circle cx="371" cy="678.2" r="3.4" fill="#fff" stroke-width="2.4"/>
<text x="391.7" y="683.4" font-size="14.4" font-weight="bold" text-anchor="start" fill="#000" stroke="none" >Vehicle: TAT-GESV</text>
<line x1="521.4" y1="677.8" x2="540.5" y2="677.8" stroke-width="2"/>
<circle cx="530.8" cy="677.8" r="3.35" fill="#000" stroke="none"/>
<text x="551.5" y="683.4" font-size="14.4" font-weight="bold" text-anchor="start" fill="#000" stroke="none" >Paclitaxel: TAT-GESV</text>
<text x="33.4" y="717.9" font-size="17.3" font-weight="bold" text-anchor="start" fill="#000" stroke="none" >F</text>
<text x="156" y="716" font-size="17.3" font-weight="bold" text-anchor="start" fill="#000" stroke="none" >Paclitaxel</text>
<line x1="66.6" y1="728.4" x2="66.6" y2="903.1" stroke-width="2"/>
<line x1="62" y1="902.1" x2="66.6" y2="902.1" stroke-width="2"/>
<text x="59.6" y="906.6" font-size="12" font-weight="bold" text-anchor="end" fill="#000" stroke="none" >0</text>
<line x1="62" y1="858.78" x2="66.6" y2="858.78" stroke-width="2"/>
<text x="59.6" y="863.28" font-size="12" font-weight="bold" text-anchor="end" fill="#000" stroke="none" >2</text>
<line x1="62" y1="815.46" x2="66.6" y2="815.46" stroke-width="2"/>
<text x="59.6" y="819.96" font-size="12" font-weight="bold" text-anchor="end" fill="#000" stroke="none" >4</text>
<line x1="62" y1="772.14" x2="66.6" y2="772.14" stroke-width="2"/>
<text x="59.6" y="776.64" font-size="12" font-weight="bold" text-anchor="end" fill="#000" stroke="none" >6</text>
<line x1="62" y1="728.82" x2="66.6" y2="728.82" stroke-width="2"/>
<text x="59.6" y="733.32" font-size="12" font-weight="bold" text-anchor="end" fill="#000" stroke="none" >8</text>
<line x1="62" y1="902.1" x2="327.5" y2="902.1" stroke-width="2"/>
<line x1="118.25" y1="839.5" x2="118.25" y2="830.5" stroke-width="1.9"/>
<line x1="105.65" y1="830.5" x2="130.85" y2="830.5" stroke-width="2.1"/>
<rect x="92.4" y="839.5" width="51.7" height="62.6" fill="#000" stroke="none"/>
<text transform="translate(121.75,919.1) rotate(-45)" font-size="13.4" font-weight="bold" text-anchor="end" stroke="none" fill="#000">Saline</text>
<line x1="196.55" y1="776.3" x2="196.55" y2="769" stroke-width="1.9"/>
<line x1="183.95" y1="769" x2="209.15" y2="769" stroke-width="2.1"/>
<defs><pattern id="hp1" patternUnits="userSpaceOnUse" width="6.3" height="6.3" patternTransform="translate(170.7,776.3) rotate(45) translate(0.22,0)"><rect x="0" y="0" width="2.7" height="6.3" fill="#000"/></pattern></defs>
<rect x="171.9" y="777.5" width="49.3" height="124.6" fill="url(#hp1)" stroke="#000" stroke-width="2.4"/>
<text transform="translate(200.05,919.1) rotate(-45)" font-size="13.4" font-weight="bold" text-anchor="end" stroke="none" fill="#000">TAT-GESV</text>
<line x1="274.8" y1="830.5" x2="274.8" y2="819.4" stroke-width="1.9"/>
<line x1="262.2" y1="819.4" x2="287.4" y2="819.4" stroke-width="2.1"/>
<defs><pattern id="hp2" patternUnits="userSpaceOnUse" width="6.3" height="6.3" patternTransform="translate(249.5,830.5) rotate(-45) translate(1.87,0)"><rect x="0" y="0" width="2.7" height="6.3" fill="#000"/></pattern></defs>
<rect x="250.7" y="831.7" width="48.2" height="70.4" fill="url(#hp2)" stroke="#000" stroke-width="2.4"/>
<text transform="translate(278.3,919.1) rotate(-45)" font-size="13.4" font-weight="bold" text-anchor="end" stroke="none" fill="#000">TAT-GESV<tspan font-weight="normal" font-size="13">Δ</tspan>1</text>
<text transform="translate(43.9,815.5) rotate(-90)" font-size="16.8" font-weight="bold" text-anchor="middle" stroke="none" fill="#000">Threshold (g)</text>
<polyline points="118.4,823.5 118.4,739.1 196.6,739.1 196.6,758.8" fill="none" stroke-width="1.6"/>
<polyline points="200.1,758.8 200.1,739.1 274.3,739.1 274.3,812.5" fill="none" stroke-width="1.6"/>
<text x="153.03" y="740.07" font-size="14.5" font-weight="normal" text-anchor="middle" stroke="#000" stroke-width="0.35" fill="#000">*</text>
<text x="160.97" y="740.07" font-size="14.5" font-weight="normal" text-anchor="middle" stroke="#000" stroke-width="0.35" fill="#000">*</text>
<text x="233.03" y="740.67" font-size="14.5" font-weight="normal" text-anchor="middle" stroke="#000" stroke-width="0.35" fill="#000">*</text>
<text x="240.97" y="740.67" font-size="14.5" font-weight="normal" text-anchor="middle" stroke="#000" stroke-width="0.35" fill="#000">*</text>
<text x="369.4" y="728.6" font-size="17.3" font-weight="bold" text-anchor="start" fill="#000" stroke="none" >G</text>
<text x="493.6" y="717.8" font-size="17.3" font-weight="bold" text-anchor="start" fill="#000" stroke="none" >Paclitaxel</text>
<line x1="403.6" y1="730.7" x2="403.6" y2="906.3" stroke-width="2"/>
<line x1="399" y1="905.3" x2="403.6" y2="905.3" stroke-width="2"/>
<text x="396.8" y="909.8" font-size="12" font-weight="bold" text-anchor="end" fill="#000" stroke="none" >0</text>
<line x1="399" y1="861.54" x2="403.6" y2="861.54" stroke-width="2"/>
<text x="396.8" y="866.04" font-size="12" font-weight="bold" text-anchor="end" fill="#000" stroke="none" >2</text>
<line x1="399" y1="817.78" x2="403.6" y2="817.78" stroke-width="2"/>
<text x="396.8" y="822.28" font-size="12" font-weight="bold" text-anchor="end" fill="#000" stroke="none" >4</text>
<line x1="399" y1="774.02" x2="403.6" y2="774.02" stroke-width="2"/>
<text x="396.8" y="778.52" font-size="12" font-weight="bold" text-anchor="end" fill="#000" stroke="none" >6</text>
<line x1="399" y1="730.26" x2="403.6" y2="730.26" stroke-width="2"/>
<text x="396.8" y="734.76" font-size="12" font-weight="bold" text-anchor="end" fill="#000" stroke="none" >8</text>
<line x1="399" y1="905.3" x2="666.7" y2="905.3" stroke-width="2"/>
<line x1="456.5" y1="776.1" x2="456.5" y2="762.5" stroke-width="1.9"/>
<line x1="443.7" y1="762.5" x2="469.3" y2="762.5" stroke-width="2.1"/>
<rect x="430.7" y="776.1" width="51.6" height="129.2" fill="#000" stroke="none"/>
<text transform="translate(460,922.3) rotate(-45)" font-size="13.4" font-weight="bold" text-anchor="end" stroke="none" fill="#000">Saline</text>
<line x1="534.75" y1="821.5" x2="534.75" y2="809.2" stroke-width="1.9"/>
<line x1="521.75" y1="809.2" x2="547.75" y2="809.2" stroke-width="2.1"/>
<defs><pattern id="hp3" patternUnits="userSpaceOnUse" width="6.3" height="6.3" patternTransform="translate(508.9,821.5) rotate(45) translate(0.87,0)"><rect x="0" y="0" width="2.7" height="6.3" fill="#000"/></pattern></defs>
<rect x="510.1" y="822.7" width="49.3" height="82.6" fill="url(#hp3)" stroke="#000" stroke-width="2.4"/>
<text transform="translate(538.25,922.3) rotate(-45)" font-size="13.4" font-weight="bold" text-anchor="end" stroke="none" fill="#000">TAT-GESV</text>
<line x1="613.35" y1="788" x2="613.35" y2="779.3" stroke-width="1.9"/>
<line x1="600.45" y1="779.3" x2="626.25" y2="779.3" stroke-width="2.1"/>
<defs><pattern id="hp4" patternUnits="userSpaceOnUse" width="6.3" height="6.3" patternTransform="translate(587.4,788) rotate(-45) translate(1.87,0)"><rect x="0" y="0" width="2.7" height="6.3" fill="#000"/></pattern></defs>
<rect x="588.6" y="789.2" width="49.5" height="116.1" fill="url(#hp4)" stroke="#000" stroke-width="2.4"/>
<text transform="translate(616.85,922.3) rotate(-45)" font-size="13.4" font-weight="bold" text-anchor="end" stroke="none" fill="#000">TAT-GESV<tspan font-weight="normal" font-size="13">Δ</tspan>1</text>
<text transform="translate(383.3,818.0) rotate(-90)" font-size="16.8" font-weight="bold" text-anchor="middle" stroke="none" fill="#000">Time (s)</text>
<polyline points="453.6,757.6 453.6,741.3 533.6,741.3 533.6,803.1" fill="none" stroke-width="1.6"/>
<text x="491" y="742.97" font-size="14.5" font-weight="normal" text-anchor="middle" stroke="#000" stroke-width="0.35" fill="#000">*</text>
</g></svg></body></html>
